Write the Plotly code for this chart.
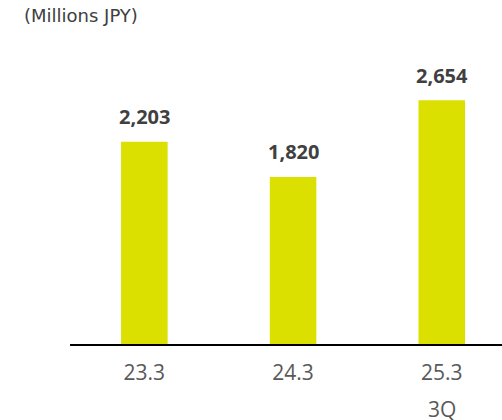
import plotly.graph_objects as go

categories = ["23.3", "24.3", "25.3"]
values = [2203, 1820, 2654]
value_labels = ["2,203", "1,820", "2,654"]
sub_label = "3Q"
unit_title = "(Millions JPY)"

bar_color = "#dce000"

fig = go.Figure()
fig.add_trace(go.Bar(
    x=categories, y=values, marker_color=bar_color, marker_line_width=0,
    width=0.313, hoverinfo="skip",
))

for i, (v, t) in enumerate(zip(values, value_labels)):
    fig.add_annotation(x=i, y=v, text=t, showarrow=False, yanchor="middle",
                       yshift=25, font=dict(family="Open Sans", size=20, color="#404040",
                                            weight=700))

fig.add_annotation(x=len(categories) - 1, y=-0.2289, yref="paper", text=sub_label,
                   showarrow=False, yanchor="middle", height=22, valign="middle",
                   font=dict(family="Open Sans", size=21, color="#595959"))

fig.update_layout(
    width=502, height=420,
    margin=dict(l=70, r=0, t=60, b=76),
    plot_bgcolor="white", paper_bgcolor="white",
    showlegend=False,
    title=dict(text=unit_title, xref="container", yref="container",
               x=24/502, y=1 - 16/420, xanchor="left", yanchor="middle",
               font=dict(family="DejaVu Sans", size=18, color="#404040")),
    xaxis=dict(type="category", range=[-0.5, 2.405], showline=True, linecolor="black",
               linewidth=2, ticks="", showgrid=False, zeroline=False,
               tickfont=dict(family="Open Sans", size=21, color="#595959"),
               ticklabelstandoff=9),
    yaxis=dict(range=[0, 3093], visible=False, showgrid=False, zeroline=False),
)

fig.write_html(
    "out.html",
    config={"displayModeBar": False, "staticPlot": True},
    post_script="document.body.style.margin='0';document.body.style.overflow='hidden';",
)
